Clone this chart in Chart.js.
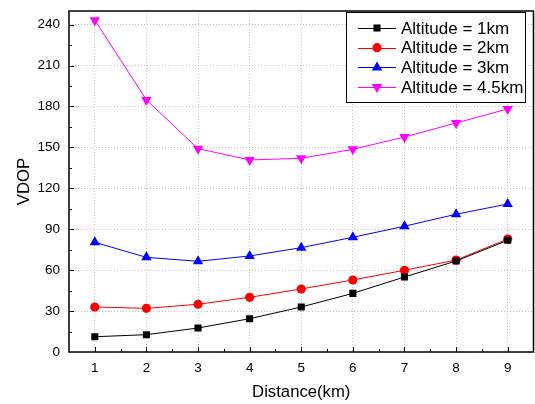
<!DOCTYPE html>
<html><head><meta charset="utf-8">
<script src="https://cdn.jsdelivr.net/npm/chart.js@4/dist/chart.umd.min.js"></script>
<style>html,body{margin:0;padding:0;background:#fff}</style>
</head><body>
<canvas id="c" width="535" height="404" style="width:535px;height:404px;display:block"></canvas>
<script>
const distances = [1, 2, 3, 4, 5, 6, 7, 8, 9];
const alt1km = [11.2, 12.7, 17.6, 24.4, 33.0, 43.0, 55.0, 66.7, 81.9];
const alt2km = [33.0, 32.0, 35.0, 40.1, 46.2, 52.8, 59.9, 67.4, 82.8];
const alt3km = [80.4, 69.4, 66.5, 70.4, 76.5, 84.1, 92.2, 101.0, 108.5];
const alt45km = [243.3, 184.8, 149.1, 140.8, 142.0, 148.6, 157.6, 167.9, 178.2];
const seriesLabels = ['Altitude = 1km', 'Altitude = 2km', 'Altitude = 3km', 'Altitude = 4.5km'];
const xTickValues = [1, 2, 3, 4, 5, 6, 7, 8, 9];
const yTickValues = [0, 30, 60, 90, 120, 150, 180, 210, 240];
const xTitle = 'Distance(km)';
const yTitle = 'VDOP';

const FONT = '"Liberation Sans", Arial, sans-serif';
const toPts = arr => arr.map((v, i) => ({x: distances[i], y: v}));

const styles = [
  {color: '#000000', pointStyle: 'rect', radius: 5, rotation: 0},
  {color: '#ff0000', pointStyle: 'circle', radius: 4.6, rotation: 0},
  {color: '#0000ff', pointStyle: 'triangle', radius: 6, rotation: 0},
  {color: '#ff00ff', pointStyle: 'triangle', radius: 6, rotation: 180}
];
const seriesData = [alt1km, alt2km, alt3km, alt45km];

const datasets = seriesData.map((d, i) => ({
  label: seriesLabels[i],
  data: toPts(d),
  borderColor: styles[i].color,
  backgroundColor: styles[i].color,
  pointBackgroundColor: styles[i].color,
  pointBorderColor: styles[i].color,
  borderWidth: 1,
  pointBorderWidth: 0,
  pointStyle: styles[i].pointStyle,
  pointRadius: styles[i].radius,
  pointRotation: styles[i].rotation,
  pointHoverRadius: styles[i].radius,
  tension: 0,
  fill: false
}));

const framePlugin = {
  id: 'frame',
  afterDatasetsDraw(chart) {
    const {ctx, chartArea: a, scales} = chart;
    ctx.save();
    ctx.strokeStyle = '#000';
    const xs = scales.x, ys = scales.y;
    ctx.lineWidth = 1;
    ctx.beginPath();
    for (let v = 1; v <= 9; v += 0.5) {
      const px = Math.round(xs.getPixelForValue(v)) + 0.5;
      const len = Number.isInteger(v) ? 5 : 3;
      ctx.moveTo(px, a.bottom);
      ctx.lineTo(px, a.bottom - len);
    }
    for (let v = 15; v <= 245; v += 15) {
      const py = Math.round(ys.getPixelForValue(v)) + 0.5;
      const len = (v % 30 === 0) ? 5 : 3;
      ctx.moveTo(a.left, py);
      ctx.lineTo(a.left + len, py);
    }
    ctx.stroke();
    ctx.lineWidth = 1.5;
    ctx.strokeRect(a.left, a.top, a.right - a.left, a.bottom - a.top);
    ctx.restore();
  },
  afterDraw(chart) {
    const {ctx} = chart;
    ctx.save();
    const bx = 346, by = 12, bw = 179, bh = 90;
    ctx.fillStyle = '#fff';
    ctx.fillRect(bx, by, bw, bh);
    ctx.strokeStyle = '#000';
    ctx.lineWidth = 1;
    ctx.strokeRect(bx + 0.5, by + 0.5, bw, bh);
    chart.data.datasets.forEach((ds, i) => {
      const y = 28 + i * 19.7;
      ctx.strokeStyle = ds.borderColor;
      ctx.lineWidth = 1;
      ctx.beginPath();
      ctx.moveTo(358, Math.round(y) + 0.5);
      ctx.lineTo(396, Math.round(y) + 0.5);
      ctx.stroke();
      ctx.fillStyle = ds.pointBackgroundColor;
      ctx.strokeStyle = ds.pointBorderColor;
      Chart.helpers.drawPoint(ctx, {pointStyle: ds.pointStyle, radius: ds.pointRadius, rotation: ds.pointRotation, borderWidth: 0}, 377, y);
      ctx.fillStyle = '#000';
      ctx.font = '17px ' + FONT;
      ctx.textBaseline = 'middle';
      ctx.textAlign = 'left';
      ctx.fillText(ds.label, 401, y + 1);
    });
    ctx.restore();
  }
};

new Chart(document.getElementById('c'), {
  type: 'line',
  data: {datasets},
  options: {
    responsive: false,
    animation: false,
    devicePixelRatio: 1,
    layout: {autoPadding: false, padding: {top: 11, right: 1.5, left: 0, bottom: 0}},
    plugins: {legend: {display: false}, tooltip: {enabled: false}},
    scales: {
      x: {
        type: 'linear', min: 0.5, max: 9.5,
        afterBuildTicks: s => { s.ticks = xTickValues.map(v => ({value: v})); },
        afterFit: s => { s.height = 52; s.paddingLeft = 0; s.paddingRight = 0; },
        grid: {color: '#c4c4c4', lineWidth: 1, drawTicks: false},
        border: {display: false, dash: [1, 2]},
        ticks: {autoSkip: false, maxRotation: 0, padding: 8, color: '#000', font: {family: FONT, size: 13.5}},
        title: {display: true, text: xTitle, color: '#000', font: {family: FONT, size: 16.7}, padding: {top: 0, bottom: 2}}
      },
      y: {
        type: 'linear', min: 0, max: 250,
        afterBuildTicks: s => { s.ticks = yTickValues.map(v => ({value: v})); },
        afterFit: s => { s.width = 69; s.paddingTop = 0; s.paddingBottom = 0; },
        grid: {color: '#c4c4c4', lineWidth: 1, drawTicks: false},
        border: {display: false, dash: [1, 2]},
        ticks: {padding: 9, color: '#000', font: {family: FONT, size: 13.5}},
        title: {display: true, text: yTitle, color: '#000', font: {family: FONT, size: 16.7}, padding: {top: 14, bottom: 0}}
      }
    }
  },
  plugins: [framePlugin]
});
</script>
</body></html>
